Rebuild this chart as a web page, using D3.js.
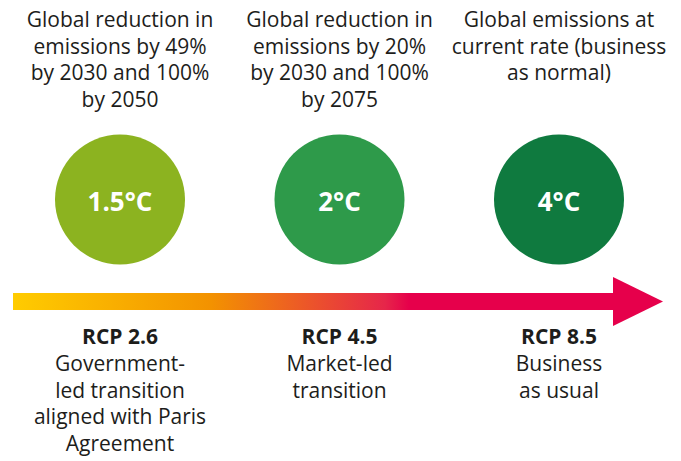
<!DOCTYPE html>
<html>
<head>
<meta charset="utf-8">
<script src="https://cdn.jsdelivr.net/npm/d3@7"></script>
<style>
  body { margin: 0; background: #fff; }
  svg { display: block; }
  text { font-family: "Open Sans", "Noto Sans", sans-serif; fill: #1d1d1b; }
</style>
</head>
<body>
<div id="chart"></div>
<script>
// scenario data
var scenarios = ["rcp26", "rcp45", "rcp85"];
var temps = ["1.5°C", "2°C", "4°C"];
var circleColors = ["#8cb320", "#2e9a4a", "#0f7a3f"];
var topLines = [
  ["Global reduction in", "emissions by 49%", "by 2030 and 100%", "by 2050"],
  ["Global reduction in", "emissions by 20%", "by 2030 and 100%", "by 2075"],
  ["Global emissions at", "current rate (business", "as normal)"]
];
var rcpLabels = ["RCP 2.6", "RCP 4.5", "RCP 8.5"];
var bottomLines = [
  ["Government-", "led transition", "aligned with Paris", "Agreement"],
  ["Market-led", "transition"],
  ["Business", "as usual"]
];
var gradStops = [
  { offset: 0, color: "#ffcc00" },
  { offset: 0.33, color: "#f39200" },
  { offset: 0.62, color: "#e6264a" },
  { offset: 0.66, color: "#e6004b" },
  { offset: 1, color: "#e6004b" }
];

var width = 681;
var height = 461;
var circRadius = 65;
var lineH = 26.7;

var svg = d3.select("#chart")
  .append("svg")
  .attr("width", width)
  .attr("height", height);

var xScale = d3.scalePoint()
  .domain(scenarios)
  .range([120, 559]);

// arrow gradient
var defs = svg.append("defs");
var grad = defs.append("linearGradient")
  .attr("id", "arrowGrad")
  .attr("gradientUnits", "userSpaceOnUse")
  .attr("x1", 13).attr("x2", 613)
  .attr("y1", 0).attr("y2", 0);
grad.selectAll("stop").data(gradStops).enter()
  .append("stop")
  .attr("offset", function(d) { return d.offset; })
  .attr("stop-color", function(d) { return d.color; });

// arrow shaft + head
svg.append("rect")
  .attr("x", 13).attr("y", 293)
  .attr("width", 601).attr("height", 17)
  .attr("fill", "url(#arrowGrad)");
svg.append("path")
  .attr("d", "M613,277 L663,301.5 L613,326 Z")
  .attr("fill", "#e6004b");

// circles
var groups = svg.selectAll("g.scenario")
  .data(scenarios)
  .enter()
  .append("g")
  .attr("class", "scenario")
  .attr("transform", function(d) { return "translate(" + xScale(d) + ",0)"; });

groups.append("circle")
  .attr("cx", 0)
  .attr("cy", 199.5)
  .attr("r", circRadius)
  .attr("fill", function(d, i) { return circleColors[i]; });

groups.append("text")
  .attr("x", 0)
  .attr("y", 211)
  .attr("text-anchor", "middle")
  .style("fill", "#fff")
  .style("font-weight", "bold")
  .style("font-size", "26px")
  .text(function(d, i) { return temps[i]; });

// top description
groups.append("text")
  .attr("text-anchor", "middle")
  .style("font-size", "21px")
  .selectAll("tspan")
  .data(function(d, i) { return topLines[i]; })
  .enter()
  .append("tspan")
  .attr("x", 0)
  .attr("y", function(d, j) { return 27 + j * lineH; })
  .text(function(d) { return d; });

// RCP labels
groups.append("text")
  .attr("x", 0)
  .attr("y", 344)
  .attr("text-anchor", "middle")
  .style("font-size", "21px")
  .style("font-weight", "bold")
  .text(function(d, i) { return rcpLabels[i]; });

groups.append("text")
  .attr("text-anchor", "middle")
  .style("font-size", "21px")
  .selectAll("tspan")
  .data(function(d, i) { return bottomLines[i]; })
  .enter()
  .append("tspan")
  .attr("x", 0)
  .attr("y", function(d, j) { return 371 + j * lineH; })
  .text(function(d) { return d; });
</script>
</body>
</html>
